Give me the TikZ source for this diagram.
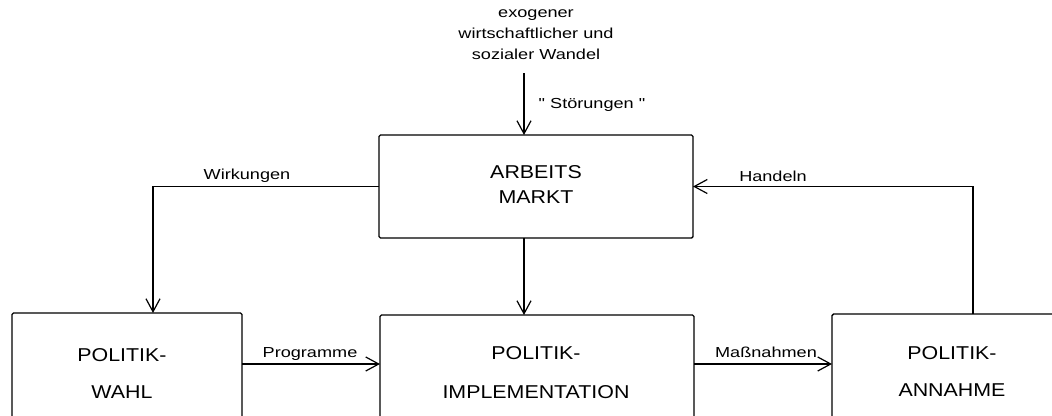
\documentclass[tikz,border=0pt]{standalone}
\usepackage{fontspec}
\setmainfont{Liberation Sans}
\newfontfamily\boxfont[FakeStretch=1.15]{Liberation Sans}
\newfontfamily\lblfont[FakeStretch=1.25]{Liberation Sans}
\usetikzlibrary{arrows.meta,calc}
\begin{document}
\begin{tikzpicture}[x=1pt,y=-1pt,
  box/.style={draw,line width=1.4pt,rounded corners=1.5pt,inner sep=0pt,outer sep=0pt},
  boxtext/.style={font=\boxfont\fontsize{18.6}{22}\selectfont,inner sep=0pt,anchor=center},
  lbl/.style={font=\lblfont\fontsize{14.5}{21}\selectfont,inner sep=0pt,anchor=center},
  arr/.style={line width=1.3pt,-{Straight Barb[length=13pt,width=14pt,line width=1.2pt]}},
  conn/.style={line width=1.3pt}]
\useasboundingbox (0,0) rectangle (1052,415);
% boxes
\node[box,minimum width=314pt,minimum height=103pt,anchor=north west] (arb) at (379,135) {};
\node[box,minimum width=230pt,minimum height=112pt,anchor=north west] (wahl) at (12,313) {};
\node[box,minimum width=314pt,minimum height=110pt,anchor=north west] (impl) at (380,315) {};
\node[box,minimum width=240pt,minimum height=111pt,anchor=north west] (ann) at (832,314) {};
% box texts
\node[boxtext] (arb1) at (536,172) {ARBEITS};
\node[boxtext] (arb2) at (536,197) {MARKT};
\node[boxtext] (wahl1) at (122,355) {POLITIK-};
\node[boxtext] (wahl2) at (122,392) {WAHL};
\node[boxtext] (impl1) at (536,353) {POLITIK-};
\node[boxtext] (impl2) at (536,392) {IMPLEMENTATION};
\node[boxtext] (ann1) at (952,353) {POLITIK-};
\node[boxtext] (ann2) at (952,390) {ANNAHME};
% top text
\node[lbl,align=center,anchor=north] (exo) at (536,9) {exogener\\wirtschaftlicher und\\sozialer Wandel};
% helper coordinates
\coordinate (ax) at (524,0);
\coordinate (lx) at (153,0);
\coordinate (hx) at (973,0);
\coordinate (py) at (0,364);
\coordinate (top) at (524,73);
% connectors
\draw[arr] (top) -- (arb.north -| ax);
\draw[arr] (arb.west) -| (wahl.north -| lx);
\draw[arr] (arb.south -| ax) -- (impl.north -| ax);
\draw[arr] (wahl.east |- py) -- (impl.west |- py);
\draw[arr] (impl.east |- py) -- (ann.west |- py);
\draw[arr] (ann.north -| hx) |- (arb.east);
% labels
\node[lbl] (stoer) at (592,105) {" Störungen "};
\node[lbl] (wirk) at (247,176) {Wirkungen};
\node[lbl] (hand) at (773,176) {Handeln};
\node[lbl] (prog) at (310,354) {Programme};
\node[lbl] (mass) at (766,352) {Maßnahmen};
\end{tikzpicture}
\end{document}
